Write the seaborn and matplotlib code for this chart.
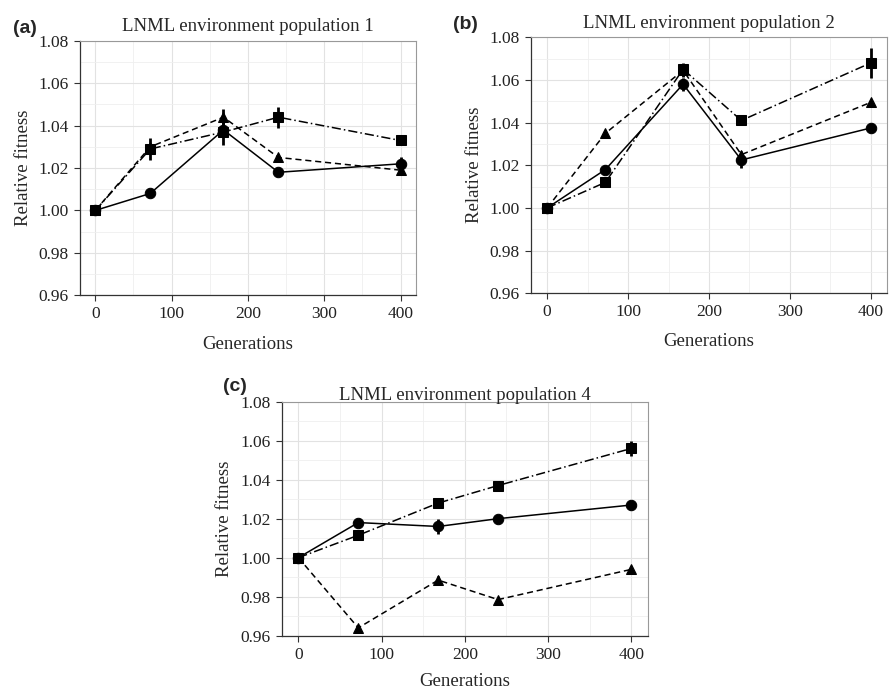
import numpy as np
import pandas as pd
import matplotlib
matplotlib.use("Agg")
import matplotlib.pyplot as plt
import seaborn as sns
from matplotlib.ticker import MultipleLocator

generations = [0, 72, 168, 240, 400]
series_names = ["circle", "triangle", "square"]

# panel (a) population 1
pop1_circle = [1.000, 1.008, 1.038, 1.018, 1.022]
pop1_triangle = [1.000, 1.030, 1.044, 1.025, 1.019]
pop1_square = [1.000, 1.029, 1.037, 1.044, 1.033]
pop1_circle_err = [0, 0, 0, 0, 0.003]
pop1_triangle_err = [0, 0, 0.004, 0, 0]
pop1_square_err = [0, 0.005, 0.006, 0.005, 0]

# panel (b) population 2
pop2_circle = [1.000, 1.018, 1.058, 1.0225, 1.0375]
pop2_triangle = [1.000, 1.035, 1.0645, 1.025, 1.0495]
pop2_square = [1.000, 1.012, 1.065, 1.041, 1.068]
pop2_circle_err = [0, 0.002, 0.003, 0.004, 0]
pop2_triangle_err = [0, 0, 0.003, 0, 0]
pop2_square_err = [0, 0, 0.003, 0, 0.007]

# panel (c) population 4
pop4_circle = [1.000, 1.018, 1.016, 1.020, 1.027]
pop4_triangle = [1.000, 0.964, 0.9885, 0.9785, 0.994]
pop4_square = [1.000, 1.0115, 1.028, 1.037, 1.056]
pop4_circle_err = [0, 0.002, 0.004, 0.002, 0]
pop4_triangle_err = [0, 0, 0.002, 0, 0]
pop4_square_err = [0, 0, 0, 0, 0.004]

titles = ["LNML environment population 1", "LNML environment population 2",
          "LNML environment population 4"]
panel_tags = ["(a)", "(b)", "(c)"]

panels = [
    (pop1_circle, pop1_triangle, pop1_square, pop1_circle_err, pop1_triangle_err, pop1_square_err),
    (pop2_circle, pop2_triangle, pop2_square, pop2_circle_err, pop2_triangle_err, pop2_square_err),
    (pop4_circle, pop4_triangle, pop4_square, pop4_circle_err, pop4_triangle_err, pop4_square_err),
]

sns.set_theme(style="white")
plt.rcParams['font.family'] = ['Liberation Serif', 'DejaVu Serif']

markers = {"circle": "o", "triangle": "^", "square": "s"}
dashes = {"circle": "", "triangle": (4, 2.5), "square": (6, 2, 1, 2)}

fig = plt.figure(figsize=(8.93, 6.93), dpi=100)
rects = [
    [0.0896, 0.574, 0.376, 0.367],
    [0.5946, 0.5768, 0.3987, 0.3694],
    [0.3155, 0.0827, 0.410, 0.3377],
]
tag_pos = [(-0.20, 1.05), (-0.22, 1.048), (-0.16, 1.063)]
title_pad = [7, 7, 1]
xlabel_pad = [10, 9, 7]

for i, (rect, data) in enumerate(zip(rects, panels)):
    ax = fig.add_axes(rect)
    c, t, s, ce, te, se = data
    df = pd.DataFrame({
        "Generations": generations * 3,
        "fitness": c + t + s,
        "err": ce + te + se,
        "series": np.repeat(series_names, len(generations)),
    })
    sns.lineplot(data=df, x="Generations", y="fitness", style="series",
                 markers=markers, dashes=dashes, color="black", lw=1.1,
                 markersize=7.5, markeredgecolor="black", legend=False, ax=ax,
                 zorder=3)
    sub = df[df["err"] > 0]
    ax.errorbar(sub["Generations"], sub["fitness"], yerr=sub["err"], fmt="none",
                ecolor="black", elinewidth=2, capsize=0, zorder=4)

    ax.set_xlim(-20, 420)
    ax.set_ylim(0.96, 1.08)
    ax.xaxis.set_major_locator(MultipleLocator(100))
    ax.xaxis.set_minor_locator(MultipleLocator(50))
    ax.yaxis.set_major_locator(MultipleLocator(0.02))
    ax.yaxis.set_minor_locator(MultipleLocator(0.01))
    ax.yaxis.set_major_formatter(matplotlib.ticker.FormatStrFormatter("%.2f"))
    ax.grid(which="major", color="#e2e2e2", lw=0.8)
    ax.grid(which="minor", color="#efefef", lw=0.6)
    ax.set_axisbelow(True)
    for side in ["top", "right"]:
        ax.spines[side].set_color("#999999")
        ax.spines[side].set_linewidth(0.8)
    for side in ["left", "bottom"]:
        ax.spines[side].set_color("#333333")
        ax.spines[side].set_linewidth(0.9)
    ax.tick_params(axis="both", which="major", direction="out", length=4,
                   width=0.8, color="#333333", labelsize=12.5, labelcolor="#222222",
                   left=True, bottom=True, pad=4)
    ax.tick_params(which="minor", length=0)
    ax.set_xlabel("Generations", fontsize=13.5, labelpad=xlabel_pad[i])
    ax.set_ylabel("Relative fitness", fontsize=13.5, labelpad=5)
    ax.set_title(titles[i], fontsize=13.5, pad=title_pad[i])
    ax.text(tag_pos[i][0], tag_pos[i][1], panel_tags[i], transform=ax.transAxes,
            fontsize=14, fontweight="bold", family="Liberation Sans",
            ha="left", va="center")

fig.savefig("out.png", dpi=100)
